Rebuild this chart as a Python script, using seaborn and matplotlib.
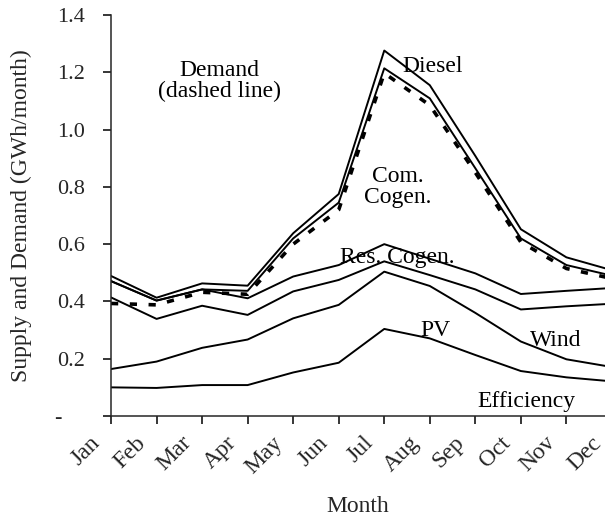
import numpy as np
import pandas as pd
import seaborn as sns
import matplotlib.pyplot as plt
import matplotlib.transforms as mtransforms

months = ['Jan', 'Feb', 'Mar', 'Apr', 'May', 'Jun', 'Jul', 'Aug', 'Sep', 'Oct', 'Nov', 'Dec']

# cumulative supply lines (GWh/month), bottom to top
efficiency = [0.100, 0.098, 0.108, 0.108, 0.152, 0.186, 0.304, 0.271, 0.213, 0.157, 0.135, 0.121]
pv = [0.164, 0.190, 0.238, 0.267, 0.341, 0.388, 0.504, 0.454, 0.360, 0.260, 0.198, 0.171]
wind = [0.414, 0.339, 0.385, 0.353, 0.435, 0.475, 0.540, 0.492, 0.442, 0.372, 0.383, 0.392]
res_cogen = [0.471, 0.403, 0.442, 0.411, 0.487, 0.527, 0.600, 0.549, 0.498, 0.426, 0.437, 0.447]
com_cogen = [0.471, 0.403, 0.442, 0.437, 0.620, 0.745, 1.214, 1.109, 0.865, 0.620, 0.527, 0.490]
diesel = [0.489, 0.413, 0.463, 0.455, 0.638, 0.775, 1.276, 1.155, 0.908, 0.652, 0.554, 0.509]

demand = [0.393, 0.388, 0.432, 0.425, 0.600, 0.720, 1.197, 1.085, 0.850, 0.607, 0.515, 0.480]

y_ticks = [0, 0.2, 0.4, 0.6, 0.8, 1.0, 1.2, 1.4]
y_ticklabels = ['-    ', '0.2', '0.4', '0.6', '0.8', '1.0', '1.2', '1.4']

x = np.arange(len(months))
supply = pd.DataFrame({
    'month': np.tile(x, 6),
    'value': efficiency + pv + wind + res_cogen + com_cogen + diesel,
    'source': np.repeat(['Efficiency', 'PV', 'Wind', 'Res. Cogen.', 'Com. Cogen.', 'Diesel'], len(months)),
})

sns.set_style('ticks')
plt.rcParams['font.family'] = 'serif'
plt.rcParams['font.serif'] = ['Liberation Serif', 'DejaVu Serif']
plt.rcParams['axes.linewidth'] = 1.1

fig = plt.figure(figsize=(6.05, 5.29), dpi=100)
ax = fig.add_axes([0.1835, 0.2136, 0.828, 0.758])

sns.lineplot(data=supply, x='month', y='value', units='source', estimator=None,
             color='black', lw=1.4, ax=ax)
sns.lineplot(x=x, y=demand, color='black', lw=2.6, ax=ax,
             dashes=False, linestyle=(0, (2.0, 3.2)))

ax.set_xlim(0, 11)
ax.set_ylim(0, 1.4)
ax.set_xticks(x)
ax.set_yticks(y_ticks)
ax.set_yticklabels(y_ticklabels, fontsize=16)
ax.tick_params(axis='both', direction='out', length=5.5, width=1.1, color='black')
ax.tick_params(axis='y', pad=13)
ax.tick_params(axis='x', pad=8)
ax.set_xticklabels(months, rotation=45, ha='right', va='center', rotation_mode='anchor', fontsize=17)
# the month labels sit a little left of and below their ticks
shift = mtransforms.ScaledTranslation(-0.14, -0.05, fig.dpi_scale_trans)
for lab in ax.get_xticklabels():
    lab.set_transform(lab.get_transform() + shift)

ax.set_xlabel('Month', fontsize=17)
ax.set_ylabel('Supply and Demand (GWh/month)', fontsize=17)
ax.xaxis.set_label_coords(0.493, -0.2)
ax.yaxis.set_label_coords(-0.158, 0.5)

txt = dict(fontsize=17, ha='center', va='center', color='black')
ax.text(2.39, 1.17, 'Demand\n(dashed line)', linespacing=1.0, **txt)
ax.text(7.07, 1.222, 'Diesel', **txt)
ax.text(6.3, 0.80, 'Com.\nCogen.', linespacing=1.0, **txt)
ax.text(6.29, 0.555, 'Res. Cogen.', **txt)
ax.text(7.13, 0.297, 'PV', **txt)
ax.text(9.77, 0.262, 'Wind', **txt)
ax.text(9.13, 0.05, 'Efficiency', **txt)

sns.despine(ax=ax)
fig.savefig('out.png', dpi=100)
